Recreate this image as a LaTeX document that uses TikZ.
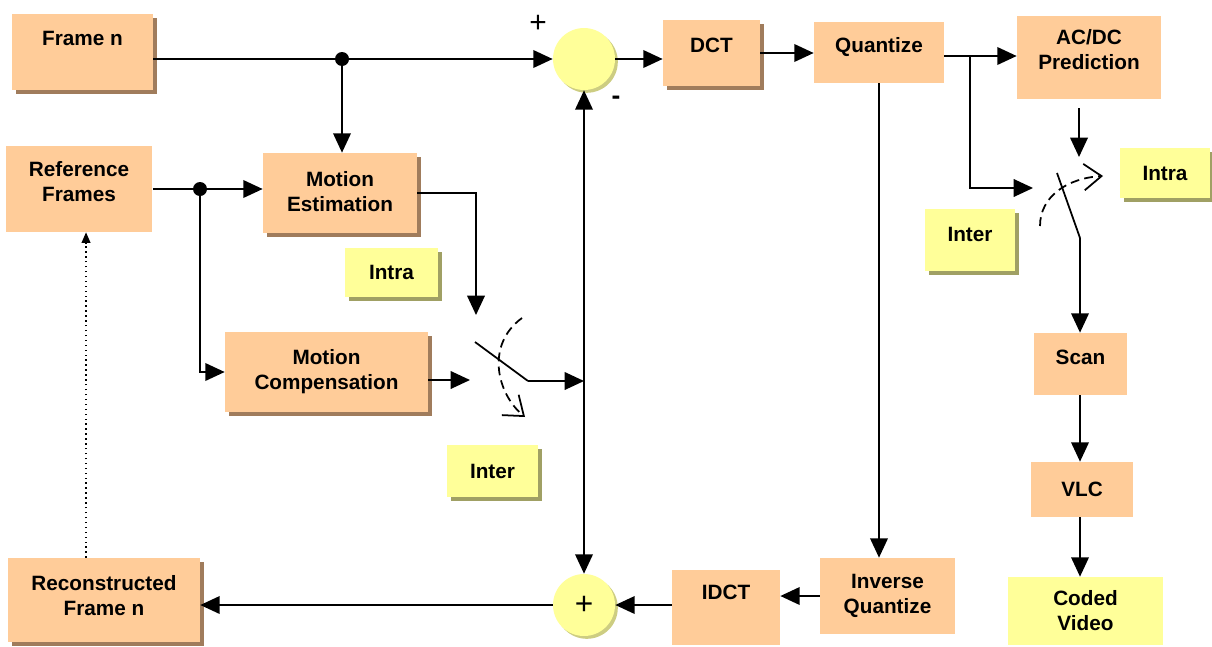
\documentclass[tikz,border=0pt]{standalone}
\usepackage{fontspec}
\setmainfont{Liberation Sans}
\usetikzlibrary{arrows.meta,shadows}
\definecolor{boxfill}{RGB}{255,204,153}
\definecolor{boxshade}{RGB}{160,124,92}
\definecolor{notefill}{RGB}{255,255,153}
\definecolor{noteshade}{RGB}{160,160,100}
\definecolor{sumshade}{RGB}{205,205,130}
\begin{document}
\begin{tikzpicture}[x=0.02cm,y=-0.02cm,
    block/.style={rectangle,fill=boxfill,align=center,inner sep=2pt,
      font=\bfseries\fontsize{11.8}{14.2}\selectfont},
    shaded/.style={general shadow={fill=boxshade,shadow xshift=2.3pt,shadow yshift=-2.3pt}},
    note/.style={block,fill=notefill,general shadow={fill=noteshade,shadow xshift=2pt,shadow yshift=-2pt}},
    sum/.style={circle,fill=notefill,minimum size=1.24cm,inner sep=0pt,
      general shadow={fill=sumshade,shadow xshift=1.6pt,shadow yshift=-1.6pt}},
    flow/.style={line width=1pt,-{Triangle[length=11pt,width=10pt]}},
    dot/.style={circle,fill=black,inner sep=0pt,minimum size=0.28cm},
    turn/.style={line width=1pt,dash pattern=on 5pt off 3pt,-{Straight Barb[length=10pt,width=15pt,line width=1pt]}}]
    \useasboundingbox (0,0) rectangle (1212,646);
    \node[block,shaded,minimum width=2.82cm,minimum height=1.52cm,text depth=16pt] (frame) at (82.5,52) {Frame n};
    \node[block,minimum width=2.94cm,minimum height=1.72cm,text depth=8.5pt] (ref) at (79,189) {Reference\\Frames};
    \node[block,shaded,minimum width=3.08cm,minimum height=1.6cm,text depth=2pt] (me) at (340,193) {Motion\\Estimation};
    \node[block,shaded,minimum width=4.06cm,minimum height=1.6cm] (mc) at (326.5,372) {Motion\\Compensation};
    \node[block,shaded,minimum width=3.84cm,minimum height=1.68cm,text depth=5pt] (recon) at (104,600) {Reconstructed\\Frame n};
    \node[block,shaded,minimum width=1.94cm,minimum height=1.32cm,text depth=8.5pt] (dct) at (711.5,53) {DCT};
    \node[block,minimum width=2.6cm,minimum height=1.22cm,text depth=8.5pt] (quant) at (879,52.5) {Quantize};
    \node[block,minimum width=2.88cm,minimum height=1.66cm,text depth=9pt] (acdc) at (1089,57.5) {AC/DC\\Prediction};
    \node[block,minimum width=1.86cm,minimum height=1.24cm,text depth=8pt] (scan) at (1080.5,364) {Scan};
    \node[block,minimum width=2.04cm,minimum height=1.1cm] (vlc) at (1082,489.5) {VLC};
    \node[block,fill=notefill,minimum width=3.1cm,minimum height=1.36cm] (coded) at (1085.5,611) {Coded\\Video};
    \node[block,minimum width=2.7cm,minimum height=1.52cm] (iq) at (887.5,596) {Inverse\\Quantize};
    \node[block,minimum width=2.16cm,minimum height=1.5cm,text depth=17pt] (idct) at (726,607.5) {IDCT};
    \node[note,minimum width=1.8cm,minimum height=1cm] (intraR) at (1165,173) {Intra};
    \node[note,minimum width=1.8cm,minimum height=1.24cm,text depth=6pt] (interR) at (970,240) {Inter};
    \node[note,minimum width=1.86cm,minimum height=0.98cm] (intraL) at (391.5,272.5) {Intra};
    \node[note,minimum width=1.82cm,minimum height=1.04cm] (interL) at (492.5,471) {Inter};
    \node[sum] (sub) at (584,59) {};
    \node[sum] (add) at (584,605) {\fontsize{18}{18}\selectfont +};
    \node (plus) at (538,24) {\fontsize{17}{17}\selectfont +};
    \node (minus) at (616,100) {\bfseries\fontsize{15}{15}\selectfont -};
    \node[dot] (d1) at (342,59) {};
    \node[dot] (d2) at (200,189) {};
    \coordinate (qsplit) at (970,56);
    \coordinate (sw1top) at (476,315);
    \coordinate (sw1in) at (470,380);
    \coordinate (sw1a) at (475,342);
    \coordinate (sw1b) at (528,381);
    \coordinate (sw2top) at (1079,157);
    \coordinate (sw2in) at (1033,188);
    \coordinate (sw2a) at (1057,173);
    \coordinate (sw2b) at (1080,238);
    \draw[flow] (frame.east |- sub) -- (sub.west);
    \draw[flow] (d1) -- (d1 |- me.north);
    \draw[flow] (sub.east) -- (sub.east -| dct.west);
    \draw[flow] (dct.east) -- (dct.east -| quant.west);
    \draw[line width=1pt] (quant.east |- qsplit) -- (qsplit);
    \draw[flow] (qsplit) -- (qsplit -| acdc.west);
    \draw[flow] (qsplit) |- (sw2in);
    \draw[flow,shorten <=5pt] (acdc.south -| sw2top) -- (sw2top);
    \draw[line width=1pt] (sw2a) -- (sw2b);
    \draw[flow] (sw2b) -- (sw2b |- scan.north);
    \draw[turn] (1040,226) .. controls (1040,196) and (1068,178) .. (1103,176);
    \draw[flow] (scan.south -| sw2b) -- (vlc.north -| sw2b);
    \draw[flow] (vlc.south -| sw2b) -- (coded.north -| sw2b);
    \draw[flow] (quant.south) -- (quant.south |- iq.north);
    \draw[flow] (iq.west) -- (iq.west -| idct.east);
    \draw[flow] (idct.west |- add) -- (add.east);
    \draw[flow] (add.west) -- (add.west -| recon.east);
    \draw[dotted,line width=0.8pt,-{Triangle[length=6pt,width=5pt]}] ([xshift=4pt]recon.north -| ref.south) -- ([xshift=4pt]ref.south);
    \draw[flow] (ref.east |- d2) -- (d2 -| me.west);
    \draw[flow] (d2) |- (mc.west);
    \draw[flow] (me.east) -| (sw1top);
    \draw[flow] (mc.east |- sw1in) -- (sw1in);
    \draw[line width=1pt] (sw1a) -- (sw1b);
    \draw[flow] (sw1b) -- (sw1b -| sub.south);
    \draw[turn] (522,318) .. controls (485,345) and (497,394) .. (525,417);
    \draw[line width=1pt,{Triangle[length=11pt,width=10pt]}-{Triangle[length=11pt,width=10pt]}] (sub.south) -- (add.north);
\end{tikzpicture}
\end{document}
